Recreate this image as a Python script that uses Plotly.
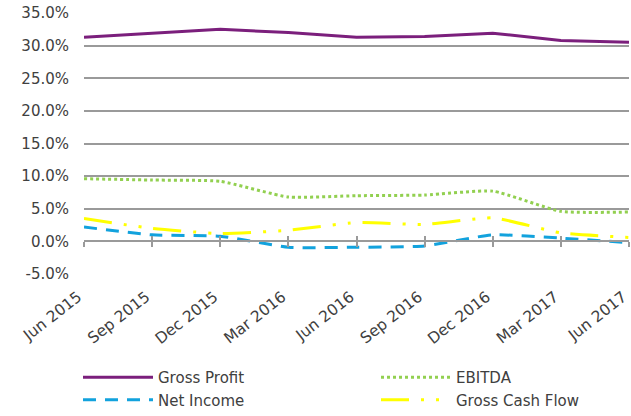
import plotly.graph_objects as go

categories = ["Jun 2015", "Sep 2015", "Dec 2015", "Mar 2016", "Jun 2016",
              "Sep 2016", "Dec 2016", "Mar 2017", "Jun 2017"]
gross_profit = [31.3, 31.9, 32.5, 32.0, 31.3, 31.4, 31.9, 30.8, 30.5]
ebitda = [9.6, 9.4, 9.2, 6.8, 7.0, 7.1, 7.7, 4.6, 4.5]
net_income = [2.2, 1.0, 0.8, -0.9, -0.9, -0.7, 1.0, 0.5, -0.2]
gross_cash_flow = [3.5, 2.0, 1.2, 1.7, 2.9, 2.6, 3.6, 1.3, 0.6]
y_ticks = [-5, 0, 5, 10, 15, 20, 25, 30, 35]

FONT = "DejaVu Sans"
TXT = "#404040"
GRID = "#9a9a9a"

fig = go.Figure()
fig.add_trace(go.Scatter(x=categories, y=gross_profit, name="Gross Profit", mode="lines",
                         legend="legend", line=dict(color="#7B1F7C", width=3)))
fig.add_trace(go.Scatter(x=categories, y=net_income, name="Net Income", mode="lines",
                         legend="legend",
                         line=dict(color="#12A2DD", width=3, dash="13px,9px", shape="spline", smoothing=0.5)))
fig.add_trace(go.Scatter(x=categories, y=ebitda, name="EBITDA", mode="lines",
                         legend="legend2",
                         line=dict(color="#92D050", width=3, dash="3px,3px", shape="spline", smoothing=0.5)))
fig.add_trace(go.Scatter(x=categories, y=gross_cash_flow, name="Gross Cash Flow", mode="lines",
                         legend="legend2",
                         line=dict(color="#FFFF00", width=3, dash="28px,12px,3px,12px,3px,12px",
                                   shape="spline", smoothing=0.5)))
# invisible helpers so the zero-line axes (with crossing ticks) are drawn
for ax in ["x2", "x3"]:
    fig.add_trace(go.Scatter(x=categories, y=gross_profit, xaxis=ax, mode="lines",
                             line=dict(width=0), opacity=0, showlegend=False, hoverinfo="skip"))

zero_pos = (0 - y_ticks[0]) / (y_ticks[-1] - y_ticks[0])
common_x = dict(type="category", range=[0, len(categories) - 1], showgrid=False, zeroline=False)
legend_common = dict(orientation="v", xref="container", yref="container", xanchor="left",
                     yanchor="top", y=0.132, itemwidth=70, traceorder="normal",
                     font=dict(family=FONT, size=15, color=TXT), bgcolor="rgba(0,0,0,0)")
fig.update_layout(
    width=631, height=416,
    margin=dict(l=84, r=2, t=13, b=142, autoexpand=False),
    paper_bgcolor="white", plot_bgcolor="white",
    font=dict(family=FONT, size=15, color=TXT),
    xaxis=dict(**common_x, showline=False, ticks="", tickangle=-38, ticklabelstandoff=10,
               ticklabelshift=-6, automargin=False,
               tickfont=dict(family=FONT, size=15.5, color=TXT)),
    xaxis2=dict(**common_x, overlaying="x", anchor="free", position=zero_pos,
                showline=True, linecolor=GRID, linewidth=1.5,
                ticks="outside", ticklen=5, tickcolor=GRID, tickwidth=1.5,
                showticklabels=False),
    xaxis3=dict(**common_x, overlaying="x", anchor="free", position=zero_pos,
                showline=False, ticks="inside", ticklen=5, tickcolor=GRID, tickwidth=1.5,
                showticklabels=False),
    yaxis=dict(range=[y_ticks[0], y_ticks[-1]], tickvals=y_ticks,
               ticktext=[f"{v:.1f}%" for v in y_ticks],
               showgrid=True, gridcolor=GRID, gridwidth=1.5, zeroline=False,
               showline=False, ticklabelstandoff=14, automargin=False,
               tickfont=dict(family=FONT, size=15, color=TXT)),
    legend=dict(**legend_common, x=78 / 631),
    legend2=dict(**legend_common, x=376 / 631),
    showlegend=True,
)
fig.write_html("out.html")
